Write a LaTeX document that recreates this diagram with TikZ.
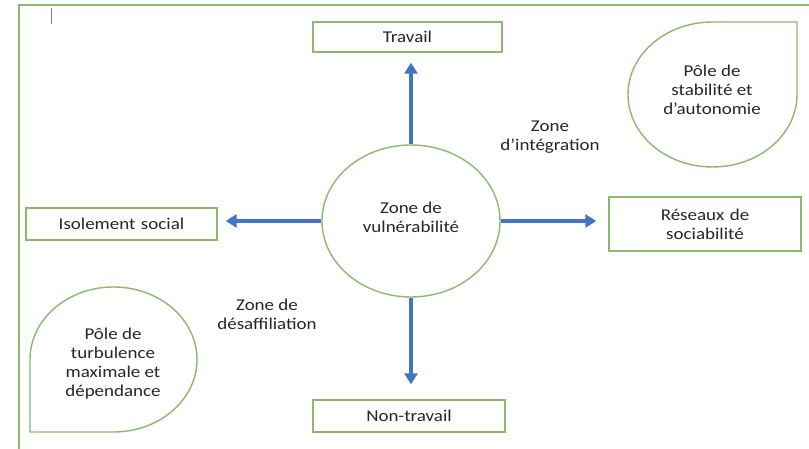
\documentclass[tikz,border=0pt]{standalone}
\usepackage{fontspec}
\setmainfont{Carlito}[FakeStretch=1.15]
\usepackage{tikz}
\usetikzlibrary{positioning,shapes.geometric,arrows.meta}
\definecolor{Leaf}{HTML}{8DB870}
\definecolor{Flow}{HTML}{4472C4}
\definecolor{Txt}{HTML}{262626}

\begin{document}
\begin{tikzpicture}[x=1pt,y=1pt,
  box/.style={draw=Leaf,line width=1.4pt,minimum height=30pt,text width=180pt,align=center,inner sep=0pt},
  flow/.style={draw=Flow,line width=3.6pt,-{Triangle[width=13pt,length=11pt]}},
  every node/.style={font=\fontsize{16.5}{19}\selectfont,text=Txt,align=center}]
\useasboundingbox (0,0) rectangle (809,449);
\fill[white] (0,0) rectangle (809,449);
% frame and stray cursor mark
\draw[Leaf,line width=1.4pt] (19,0) -- (19,444) -- (809,444);
\draw[gray,line width=1pt] (51,441) -- (51,425);
% boxes
\node[box,minimum width=189pt] (trav) at (407.5,412) {Travail};
\node[box,minimum width=191pt,minimum height=32pt] (isol) at (121.5,225) {Isolement social};
\node[box,minimum width=192pt,minimum height=54pt] (res) at (705,225) {Réseaux de\\sociabilité};
\node[box,minimum width=192pt,minimum height=32pt] (ntrav) at (409,33) {Non-travail};
\node[ellipse,draw=Leaf,line width=1.4pt,minimum width=178pt,minimum height=152pt,inner sep=0pt]
 (vuln) at (411,228) {};
\node (vulnt) at (411,232) {Zone de\\vulnérabilité};
% arrows
\draw[flow,shorten >=10pt] (vuln.north) -- (vuln.north |- trav.south);
\draw[flow,shorten >=15pt] (vuln.south) -- (vuln.south |- ntrav.north);
\draw[flow,shorten >=8pt] (vuln.west) -- (vuln.west -| isol.east);
\draw[flow,shorten >=12pt] (vuln.east) -- (vuln.east -| res.west);
% poles
\draw[Leaf,line width=1.4pt] (628,354.5) arc[start angle=180,end angle=360,x radius=84.5,y radius=72.5]
 -- (797,427) -- (712.5,427) arc[start angle=90,end angle=180,x radius=84.5,y radius=72.5] -- cycle;
\node (stab) at (712,359) {Pôle de\\stabilité et\\d’autonomie};
\draw[Leaf,line width=1.4pt] (197,89.5) arc[start angle=0,end angle=180,x radius=83.5,y radius=72.5]
 -- (30,17) -- (113.5,17) arc[start angle=270,end angle=360,x radius=83.5,y radius=72.5] -- cycle;
\node (turb) at (113,85.5) {Pôle de\\turbulence\\maximale et\\dépendance};
% zones
\node (integ) at (550,312) {Zone\\d’intégration};
\node (desaf) at (267,135) {Zone de\\désaffiliation};
\end{tikzpicture}
\end{document}
